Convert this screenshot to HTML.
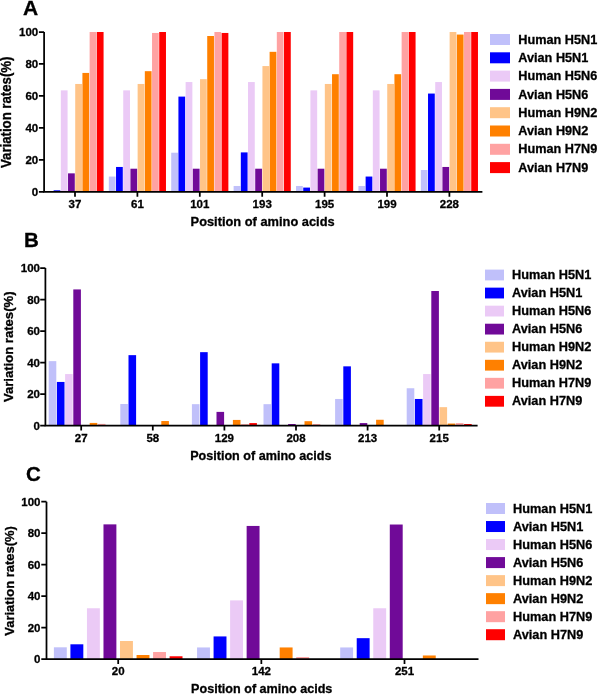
<!DOCTYPE html>
<html><head><meta charset="utf-8"><style>
html,body{margin:0;padding:0;background:#fff;}
body{width:600px;height:695px;overflow:hidden;}
svg{display:block;}
#w{width:600px;height:695px;will-change:transform;}
text{font-family:"Liberation Sans",sans-serif;font-weight:bold;fill:#000;stroke:#000;stroke-width:0.3px;}
</style></head><body>
<div id="w">
<svg width="600" height="695" viewBox="0 0 600 695">
<rect x="0" y="0" width="600" height="695" fill="#fff"/>

<rect x="53.63" y="190.30" width="6.75" height="1.60" fill="#0000ff"/>
<rect x="60.83" y="90.36" width="6.75" height="101.54" fill="#ebcaf6"/>
<rect x="68.03" y="173.35" width="6.75" height="18.55" fill="#700a98"/>
<rect x="75.22" y="83.97" width="6.75" height="107.93" fill="#ffc488"/>
<rect x="82.42" y="72.93" width="6.75" height="118.97" fill="#ff8000"/>
<rect x="89.62" y="32.00" width="6.75" height="159.90" fill="#ffa2a2"/>
<rect x="96.82" y="32.00" width="6.75" height="159.90" fill="#ff0000"/>
<rect x="108.83" y="176.55" width="6.75" height="15.35" fill="#c0c0fa"/>
<rect x="116.03" y="166.96" width="6.75" height="24.94" fill="#0000ff"/>
<rect x="123.23" y="90.36" width="6.75" height="101.54" fill="#ebcaf6"/>
<rect x="130.43" y="168.71" width="6.75" height="23.19" fill="#700a98"/>
<rect x="137.62" y="83.97" width="6.75" height="107.93" fill="#ffc488"/>
<rect x="144.83" y="71.18" width="6.75" height="120.72" fill="#ff8000"/>
<rect x="152.03" y="32.96" width="6.75" height="158.94" fill="#ffa2a2"/>
<rect x="159.22" y="32.00" width="6.75" height="159.90" fill="#ff0000"/>
<rect x="171.22" y="152.72" width="6.75" height="39.18" fill="#c0c0fa"/>
<rect x="178.42" y="96.60" width="6.75" height="95.30" fill="#0000ff"/>
<rect x="185.62" y="82.05" width="6.75" height="109.85" fill="#ebcaf6"/>
<rect x="192.82" y="168.71" width="6.75" height="23.19" fill="#700a98"/>
<rect x="200.03" y="79.17" width="6.75" height="112.73" fill="#ffc488"/>
<rect x="207.22" y="36.00" width="6.75" height="155.90" fill="#ff8000"/>
<rect x="214.42" y="32.00" width="6.75" height="159.90" fill="#ffa2a2"/>
<rect x="221.62" y="32.96" width="6.75" height="158.94" fill="#ff0000"/>
<rect x="233.62" y="185.98" width="6.75" height="5.92" fill="#c0c0fa"/>
<rect x="240.82" y="152.40" width="6.75" height="39.50" fill="#0000ff"/>
<rect x="248.02" y="82.05" width="6.75" height="109.85" fill="#ebcaf6"/>
<rect x="255.22" y="168.71" width="6.75" height="23.19" fill="#700a98"/>
<rect x="262.43" y="66.06" width="6.75" height="125.84" fill="#ffc488"/>
<rect x="269.62" y="51.83" width="6.75" height="140.07" fill="#ff8000"/>
<rect x="276.82" y="32.00" width="6.75" height="159.90" fill="#ffa2a2"/>
<rect x="284.02" y="32.00" width="6.75" height="159.90" fill="#ff0000"/>
<rect x="296.03" y="185.98" width="6.75" height="5.92" fill="#c0c0fa"/>
<rect x="303.23" y="187.58" width="6.75" height="4.32" fill="#0000ff"/>
<rect x="310.43" y="90.36" width="6.75" height="101.54" fill="#ebcaf6"/>
<rect x="317.63" y="168.71" width="6.75" height="23.19" fill="#700a98"/>
<rect x="324.83" y="83.97" width="6.75" height="107.93" fill="#ffc488"/>
<rect x="332.03" y="74.21" width="6.75" height="117.69" fill="#ff8000"/>
<rect x="339.23" y="32.00" width="6.75" height="159.90" fill="#ffa2a2"/>
<rect x="346.43" y="32.00" width="6.75" height="159.90" fill="#ff0000"/>
<rect x="358.43" y="185.98" width="6.75" height="5.92" fill="#c0c0fa"/>
<rect x="365.62" y="176.55" width="6.75" height="15.35" fill="#0000ff"/>
<rect x="372.82" y="90.36" width="6.75" height="101.54" fill="#ebcaf6"/>
<rect x="380.03" y="168.71" width="6.75" height="23.19" fill="#700a98"/>
<rect x="387.23" y="83.97" width="6.75" height="107.93" fill="#ffc488"/>
<rect x="394.43" y="74.21" width="6.75" height="117.69" fill="#ff8000"/>
<rect x="401.62" y="32.00" width="6.75" height="159.90" fill="#ffa2a2"/>
<rect x="408.82" y="32.00" width="6.75" height="159.90" fill="#ff0000"/>
<rect x="420.82" y="169.99" width="6.75" height="21.91" fill="#c0c0fa"/>
<rect x="428.02" y="93.56" width="6.75" height="98.34" fill="#0000ff"/>
<rect x="435.22" y="82.05" width="6.75" height="109.85" fill="#ebcaf6"/>
<rect x="442.43" y="166.96" width="6.75" height="24.94" fill="#700a98"/>
<rect x="449.62" y="32.00" width="6.75" height="159.90" fill="#ffc488"/>
<rect x="456.82" y="34.56" width="6.75" height="157.34" fill="#ff8000"/>
<rect x="464.02" y="32.00" width="6.75" height="159.90" fill="#ffa2a2"/>
<rect x="471.22" y="32.00" width="6.75" height="159.90" fill="#ff0000"/>
<path d="M44.10,32.00 V191.90 H482.40" fill="none" stroke="#000" stroke-width="1.75"/>
<text transform="translate(38.20,196.10) scale(1.0,1.0)" font-size="11.5" text-anchor="end">0</text>
<text transform="translate(38.20,164.12) scale(1.0,1.0)" font-size="11.5" text-anchor="end">20</text>
<text transform="translate(38.20,132.14) scale(1.0,1.0)" font-size="11.5" text-anchor="end">40</text>
<text transform="translate(38.20,100.16) scale(1.0,1.0)" font-size="11.5" text-anchor="end">60</text>
<text transform="translate(38.20,68.18) scale(1.0,1.0)" font-size="11.5" text-anchor="end">80</text>
<text transform="translate(38.20,36.20) scale(1.0,1.0)" font-size="11.5" text-anchor="end">100</text>
<text transform="translate(75.00,208.20) scale(1.0,1.0)" font-size="11.5" text-anchor="middle">37</text>
<text transform="translate(137.40,208.20) scale(1.0,1.0)" font-size="11.5" text-anchor="middle">61</text>
<text transform="translate(199.80,208.20) scale(1.0,1.0)" font-size="11.5" text-anchor="middle">101</text>
<text transform="translate(262.20,208.20) scale(1.0,1.0)" font-size="11.5" text-anchor="middle">193</text>
<text transform="translate(324.60,208.20) scale(1.0,1.0)" font-size="11.5" text-anchor="middle">195</text>
<text transform="translate(387.00,208.20) scale(1.0,1.0)" font-size="11.5" text-anchor="middle">199</text>
<text transform="translate(449.40,208.20) scale(1.0,1.0)" font-size="11.5" text-anchor="middle">228</text>
<path d="M38.90,191.90 H44.10 M38.90,159.92 H44.10 M38.90,127.94 H44.10 M38.90,95.96 H44.10 M38.90,63.98 H44.10 M38.90,32.00 H44.10 M75.00,191.90 V196.70 M137.40,191.90 V196.70 M199.80,191.90 V196.70 M262.20,191.90 V196.70 M324.60,191.90 V196.70 M387.00,191.90 V196.70 M449.40,191.90 V196.70" fill="none" stroke="#000" stroke-width="1.75"/>
<text transform="translate(262.60,226.30) scale(1.0,1.04)" font-size="12.85" text-anchor="middle">Position of amino acids</text>
<text transform="translate(11.10,112.30) rotate(-90) scale(1.0,1.04)" font-size="13.2" text-anchor="middle">Variation rates(%)</text>
<text transform="translate(22.90,14.80) scale(1.0,1.0)" font-size="21">A</text>
<rect x="490.00" y="34.00" width="20" height="11" fill="#c0c0fa"/>
<text transform="translate(518.30,43.60) scale(1.0,1.04)" font-size="12.7">Human H5N1</text>
<rect x="490.00" y="52.30" width="20" height="11" fill="#0000ff"/>
<text transform="translate(518.30,61.90) scale(1.0,1.04)" font-size="12.7">Avian H5N1</text>
<rect x="490.00" y="70.60" width="20" height="11" fill="#ebcaf6"/>
<text transform="translate(518.30,80.20) scale(1.0,1.04)" font-size="12.7">Human H5N6</text>
<rect x="490.00" y="88.90" width="20" height="11" fill="#700a98"/>
<text transform="translate(518.30,98.50) scale(1.0,1.04)" font-size="12.7">Avian H5N6</text>
<rect x="490.00" y="107.20" width="20" height="11" fill="#ffc488"/>
<text transform="translate(518.30,116.80) scale(1.0,1.04)" font-size="12.7">Human H9N2</text>
<rect x="490.00" y="125.50" width="20" height="11" fill="#ff8000"/>
<text transform="translate(518.30,135.10) scale(1.0,1.04)" font-size="12.7">Avian H9N2</text>
<rect x="490.00" y="143.80" width="20" height="11" fill="#ffa2a2"/>
<text transform="translate(518.30,153.40) scale(1.0,1.04)" font-size="12.7">Human H7N9</text>
<rect x="490.00" y="162.10" width="20" height="11" fill="#ff0000"/>
<text transform="translate(518.30,171.70) scale(1.0,1.04)" font-size="12.7">Avian H7N9</text>
<rect x="48.70" y="361.14" width="7.60" height="64.46" fill="#c0c0fa"/>
<rect x="56.90" y="381.94" width="7.60" height="43.66" fill="#0000ff"/>
<rect x="65.10" y="374.06" width="7.60" height="51.54" fill="#ebcaf6"/>
<rect x="73.30" y="289.43" width="7.60" height="136.17" fill="#700a98"/>
<rect x="89.70" y="422.92" width="7.60" height="2.68" fill="#ff8000"/>
<rect x="97.90" y="423.87" width="7.60" height="1.73" fill="#ffa2a2"/>
<rect x="120.30" y="404.01" width="7.60" height="21.59" fill="#c0c0fa"/>
<rect x="128.50" y="355.15" width="7.60" height="70.45" fill="#0000ff"/>
<rect x="161.30" y="421.03" width="7.60" height="4.57" fill="#ff8000"/>
<rect x="191.90" y="404.17" width="7.60" height="21.43" fill="#c0c0fa"/>
<rect x="200.10" y="352.16" width="7.60" height="73.44" fill="#0000ff"/>
<rect x="216.50" y="411.89" width="7.60" height="13.71" fill="#700a98"/>
<rect x="232.90" y="419.93" width="7.60" height="5.67" fill="#ff8000"/>
<rect x="241.10" y="424.18" width="7.60" height="1.42" fill="#ffa2a2"/>
<rect x="249.30" y="423.08" width="7.60" height="2.52" fill="#ff0000"/>
<rect x="263.50" y="404.17" width="7.60" height="21.43" fill="#c0c0fa"/>
<rect x="271.70" y="363.35" width="7.60" height="62.25" fill="#0000ff"/>
<rect x="288.10" y="424.02" width="7.60" height="1.58" fill="#700a98"/>
<rect x="304.50" y="421.19" width="7.60" height="4.41" fill="#ff8000"/>
<rect x="312.70" y="424.02" width="7.60" height="1.58" fill="#ffa2a2"/>
<rect x="335.10" y="398.97" width="7.60" height="26.63" fill="#c0c0fa"/>
<rect x="343.30" y="366.34" width="7.60" height="59.26" fill="#0000ff"/>
<rect x="359.70" y="423.08" width="7.60" height="2.52" fill="#700a98"/>
<rect x="376.10" y="419.77" width="7.60" height="5.83" fill="#ff8000"/>
<rect x="406.70" y="388.25" width="7.60" height="37.35" fill="#c0c0fa"/>
<rect x="414.90" y="398.97" width="7.60" height="26.63" fill="#0000ff"/>
<rect x="423.10" y="374.06" width="7.60" height="51.54" fill="#ebcaf6"/>
<rect x="431.30" y="291.01" width="7.60" height="134.59" fill="#700a98"/>
<rect x="439.50" y="407.16" width="7.60" height="18.44" fill="#ffc488"/>
<rect x="447.70" y="423.55" width="7.60" height="2.05" fill="#ff8000"/>
<rect x="455.90" y="423.08" width="7.60" height="2.52" fill="#ffa2a2"/>
<rect x="464.10" y="424.02" width="7.60" height="1.58" fill="#ff0000"/>
<path d="M45.40,268.00 V425.60 H477.60" fill="none" stroke="#000" stroke-width="1.75"/>
<text transform="translate(40.00,429.70) scale(1.0,1.0)" font-size="11.5" text-anchor="end">0</text>
<text transform="translate(40.00,398.18) scale(1.0,1.0)" font-size="11.5" text-anchor="end">20</text>
<text transform="translate(40.00,366.66) scale(1.0,1.0)" font-size="11.5" text-anchor="end">40</text>
<text transform="translate(40.00,335.14) scale(1.0,1.0)" font-size="11.5" text-anchor="end">60</text>
<text transform="translate(40.00,303.62) scale(1.0,1.0)" font-size="11.5" text-anchor="end">80</text>
<text transform="translate(40.00,272.10) scale(1.0,1.0)" font-size="11.5" text-anchor="end">100</text>
<text transform="translate(81.20,441.60) scale(1.0,1.0)" font-size="11.5" text-anchor="middle">27</text>
<text transform="translate(152.80,441.60) scale(1.0,1.0)" font-size="11.5" text-anchor="middle">58</text>
<text transform="translate(224.40,441.60) scale(1.0,1.0)" font-size="11.5" text-anchor="middle">129</text>
<text transform="translate(296.00,441.60) scale(1.0,1.0)" font-size="11.5" text-anchor="middle">208</text>
<text transform="translate(367.60,441.60) scale(1.0,1.0)" font-size="11.5" text-anchor="middle">213</text>
<text transform="translate(439.20,441.60) scale(1.0,1.0)" font-size="11.5" text-anchor="middle">215</text>
<path d="M40.20,425.60 H45.40 M40.20,394.08 H45.40 M40.20,362.56 H45.40 M40.20,331.04 H45.40 M40.20,299.52 H45.40 M40.20,268.00 H45.40 M81.20,425.60 V430.40 M152.80,425.60 V430.40 M224.40,425.60 V430.40 M296.00,425.60 V430.40 M367.60,425.60 V430.40 M439.20,425.60 V430.40" fill="none" stroke="#000" stroke-width="1.75"/>
<text transform="translate(260.80,460.00) scale(1.0,1.04)" font-size="12.6" text-anchor="middle">Position of amino acids</text>
<text transform="translate(13.10,346.80) rotate(-90) scale(1.0,1.04)" font-size="13.1" text-anchor="middle">Variation rates(%)</text>
<text transform="translate(23.90,247.20) scale(1.0,1.0)" font-size="20.5">B</text>
<rect x="485.00" y="269.60" width="19" height="10.8" fill="#c0c0fa"/>
<text transform="translate(512.00,279.00) scale(1.0,1.04)" font-size="12.75">Human H5N1</text>
<rect x="485.00" y="287.64" width="19" height="10.8" fill="#0000ff"/>
<text transform="translate(512.00,297.04) scale(1.0,1.04)" font-size="12.75">Avian H5N1</text>
<rect x="485.00" y="305.68" width="19" height="10.8" fill="#ebcaf6"/>
<text transform="translate(512.00,315.08) scale(1.0,1.04)" font-size="12.75">Human H5N6</text>
<rect x="485.00" y="323.72" width="19" height="10.8" fill="#700a98"/>
<text transform="translate(512.00,333.12) scale(1.0,1.04)" font-size="12.75">Avian H5N6</text>
<rect x="485.00" y="341.76" width="19" height="10.8" fill="#ffc488"/>
<text transform="translate(512.00,351.16) scale(1.0,1.04)" font-size="12.75">Human H9N2</text>
<rect x="485.00" y="359.80" width="19" height="10.8" fill="#ff8000"/>
<text transform="translate(512.00,369.20) scale(1.0,1.04)" font-size="12.75">Avian H9N2</text>
<rect x="485.00" y="377.84" width="19" height="10.8" fill="#ffa2a2"/>
<text transform="translate(512.00,387.24) scale(1.0,1.04)" font-size="12.75">Human H7N9</text>
<rect x="485.00" y="395.88" width="19" height="10.8" fill="#ff0000"/>
<text transform="translate(512.00,405.28) scale(1.0,1.04)" font-size="12.75">Avian H7N9</text>
<rect x="53.89" y="647.30" width="12.90" height="11.80" fill="#c0c0fa"/>
<rect x="70.42" y="644.30" width="12.90" height="14.80" fill="#0000ff"/>
<rect x="86.95" y="608.26" width="12.90" height="50.84" fill="#ebcaf6"/>
<rect x="103.48" y="524.37" width="12.90" height="134.73" fill="#700a98"/>
<rect x="120.02" y="641.00" width="12.90" height="18.10" fill="#ffc488"/>
<rect x="136.55" y="655.01" width="12.90" height="4.09" fill="#ff8000"/>
<rect x="153.07" y="652.02" width="12.90" height="7.08" fill="#ffa2a2"/>
<rect x="169.61" y="656.27" width="12.90" height="2.83" fill="#ff0000"/>
<rect x="197.05" y="647.45" width="12.90" height="11.65" fill="#c0c0fa"/>
<rect x="213.58" y="636.43" width="12.90" height="22.67" fill="#0000ff"/>
<rect x="230.11" y="600.39" width="12.90" height="58.71" fill="#ebcaf6"/>
<rect x="246.64" y="525.94" width="12.90" height="133.16" fill="#700a98"/>
<rect x="279.69" y="647.45" width="12.90" height="11.65" fill="#ff8000"/>
<rect x="296.23" y="657.05" width="12.90" height="2.05" fill="#ffa2a2"/>
<rect x="340.19" y="647.45" width="12.90" height="11.65" fill="#c0c0fa"/>
<rect x="356.72" y="638.17" width="12.90" height="20.93" fill="#0000ff"/>
<rect x="373.25" y="608.26" width="12.90" height="50.84" fill="#ebcaf6"/>
<rect x="389.79" y="524.52" width="12.90" height="134.58" fill="#700a98"/>
<rect x="422.84" y="655.48" width="12.90" height="3.62" fill="#ff8000"/>
<path d="M46.50,501.70 V659.10 H478.50" fill="none" stroke="#000" stroke-width="1.75"/>
<text transform="translate(40.50,663.40) scale(1.0,1.0)" font-size="11.5" text-anchor="end">0</text>
<text transform="translate(40.50,631.92) scale(1.0,1.0)" font-size="11.5" text-anchor="end">20</text>
<text transform="translate(40.50,600.44) scale(1.0,1.0)" font-size="11.5" text-anchor="end">40</text>
<text transform="translate(40.50,568.96) scale(1.0,1.0)" font-size="11.5" text-anchor="end">60</text>
<text transform="translate(40.50,537.48) scale(1.0,1.0)" font-size="11.5" text-anchor="end">80</text>
<text transform="translate(40.50,506.00) scale(1.0,1.0)" font-size="11.5" text-anchor="end">100</text>
<text transform="translate(118.20,675.40) scale(1.0,1.0)" font-size="11.5" text-anchor="middle">20</text>
<text transform="translate(261.35,675.40) scale(1.0,1.0)" font-size="11.5" text-anchor="middle">142</text>
<text transform="translate(404.50,675.40) scale(1.0,1.0)" font-size="11.5" text-anchor="middle">251</text>
<path d="M41.30,659.10 H46.50 M41.30,627.62 H46.50 M41.30,596.14 H46.50 M41.30,564.66 H46.50 M41.30,533.18 H46.50 M41.30,501.70 H46.50 M118.20,659.10 V663.90 M261.35,659.10 V663.90 M404.50,659.10 V663.90" fill="none" stroke="#000" stroke-width="1.75"/>
<text transform="translate(261.70,692.80) scale(1.0,1.04)" font-size="12.6" text-anchor="middle">Position of amino acids</text>
<text transform="translate(14.10,580.90) rotate(-90) scale(1.0,1.04)" font-size="13.0" text-anchor="middle">Variation rates(%)</text>
<text transform="translate(25.90,480.60) scale(1.0,1.0)" font-size="20.5">C</text>
<rect x="486.00" y="503.00" width="19" height="11" fill="#c0c0fa"/>
<text transform="translate(513.00,512.60) scale(1.0,1.04)" font-size="12.75">Human H5N1</text>
<rect x="486.00" y="521.03" width="19" height="11" fill="#0000ff"/>
<text transform="translate(513.00,530.63) scale(1.0,1.04)" font-size="12.75">Avian H5N1</text>
<rect x="486.00" y="539.06" width="19" height="11" fill="#ebcaf6"/>
<text transform="translate(513.00,548.66) scale(1.0,1.04)" font-size="12.75">Human H5N6</text>
<rect x="486.00" y="557.09" width="19" height="11" fill="#700a98"/>
<text transform="translate(513.00,566.69) scale(1.0,1.04)" font-size="12.75">Avian H5N6</text>
<rect x="486.00" y="575.12" width="19" height="11" fill="#ffc488"/>
<text transform="translate(513.00,584.72) scale(1.0,1.04)" font-size="12.75">Human H9N2</text>
<rect x="486.00" y="593.15" width="19" height="11" fill="#ff8000"/>
<text transform="translate(513.00,602.75) scale(1.0,1.04)" font-size="12.75">Avian H9N2</text>
<rect x="486.00" y="611.18" width="19" height="11" fill="#ffa2a2"/>
<text transform="translate(513.00,620.78) scale(1.0,1.04)" font-size="12.75">Human H7N9</text>
<rect x="486.00" y="629.21" width="19" height="11" fill="#ff0000"/>
<text transform="translate(513.00,638.81) scale(1.0,1.04)" font-size="12.75">Avian H7N9</text>
</svg>
</div>
</body></html>
